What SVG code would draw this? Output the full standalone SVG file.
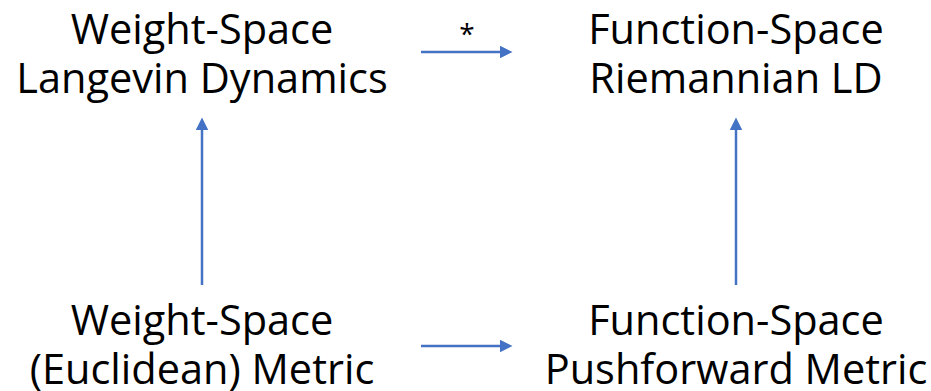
<svg xmlns="http://www.w3.org/2000/svg" width="931" height="391" viewBox="0 0 931 391">
<style>
.t{font-family:"Open Sans","Noto Sans","DejaVu Sans",sans-serif;font-size:41.5px;fill:#000;text-anchor:middle}
.s{font-family:"Open Sans","Noto Sans","DejaVu Sans",sans-serif;font-size:28px;fill:#000;text-anchor:middle}
.c{stroke:#4472C4;stroke-width:2.5;fill:none;marker-end:url(#ah)}
</style>
<defs>
<marker id="ah" viewBox="0 0 10 10" refX="0" refY="5" markerWidth="6" markerHeight="5" markerUnits="strokeWidth" orient="auto">
<path d="M0,0 L10,5 L0,10 Z" fill="#4472C4"/>
</marker>
</defs>
<g id="ws-ld"><text class="t" x="202" y="44">Weight-Space</text><text class="t" x="202" y="93">Langevin Dynamics</text></g>
<g id="fs-rld"><text class="t" x="736" y="44">Function-Space</text><text class="t" x="736" y="93">Riemannian LD</text></g>
<g id="ws-metric"><text class="t" x="202" y="335">Weight-Space</text><text class="t" x="202" y="384">(Euclidean) Metric</text></g>
<g id="fs-metric"><text class="t" x="736" y="335">Function-Space</text><text class="t" x="736" y="384">Pushforward Metric</text></g>
<g id="connectors">
<line class="c" x1="421" y1="52" x2="500" y2="52"/>
<text class="s" x="467" y="44">*</text>
<line class="c" x1="421" y1="346" x2="500" y2="346"/>
<line class="c" x1="202" y1="285" x2="202" y2="130"/>
<line class="c" x1="736" y1="285" x2="736" y2="130"/>
</g>
</svg>
